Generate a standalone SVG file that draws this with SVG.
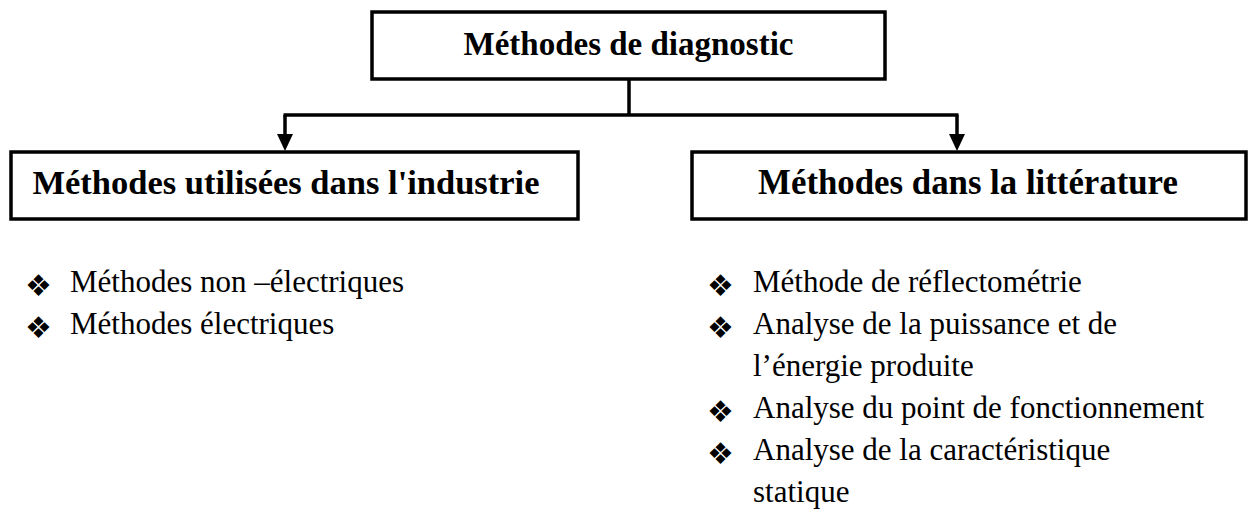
<svg xmlns="http://www.w3.org/2000/svg" width="1249" height="517" viewBox="0 0 1249 517">
<style>
.box{fill:#fff;stroke:#000;stroke-width:3.5}
.hd{font-family:"Liberation Serif","Times New Roman",serif;font-weight:bold;fill:#000}
.it{font-family:"Liberation Serif","Times New Roman",serif;font-size:31px;fill:#000}
.bl{font-family:"DejaVu Sans",sans-serif;font-size:30px;fill:#000}
.cn{fill:none;stroke:#000;stroke-width:3.5}
</style>
<g id="connectors">
<path class="cn" d="M629 80 V115"/>
<path class="cn" d="M283.5 115 H958.5"/>
<path d="M285 115 V136" class="cn"/>
<path d="M957 115 V136" class="cn"/>
<path d="M277 134 L293 134 L285 151 Z" fill="#000"/>
<path d="M949 134 L965 134 L957 151 Z" fill="#000"/>
</g>
<g id="root">
<rect class="box" x="372" y="12" width="513" height="67"/>
<text class="hd" x="628.5" y="55" font-size="33" text-anchor="middle">Méthodes de diagnostic</text>
</g>
<g id="industrie">
<rect class="box" x="11" y="152" width="567" height="67"/>
<text class="hd" x="286" y="194" font-size="34.5" text-anchor="middle">Méthodes utilisées dans l'industrie</text>
</g>
<g id="litterature">
<rect class="box" x="692" y="152" width="554" height="67"/>
<text class="hd" x="968" y="194" font-size="34.8" text-anchor="middle">Méthodes dans la littérature</text>
</g>
<g id="list-industrie">
<text class="bl" x="25" y="296">❖</text>
<text class="it" x="70" y="292">Méthodes non –électriques</text>
<text class="bl" x="25" y="338">❖</text>
<text class="it" x="70" y="334">Méthodes électriques</text>
</g>
<g id="list-litterature">
<text class="bl" x="707" y="296">❖</text>
<text class="it" x="753" y="292">Méthode de réflectométrie</text>
<text class="bl" x="707" y="338">❖</text>
<text class="it" x="753" y="334">Analyse de la puissance et de</text>
<text class="it" x="753" y="376">l’énergie produite</text>
<text class="bl" x="707" y="422">❖</text>
<text class="it" x="753" y="418">Analyse du point de fonctionnement</text>
<text class="bl" x="707" y="464">❖</text>
<text class="it" x="753" y="460">Analyse de la caractéristique</text>
<text class="it" x="753" y="502">statique</text>
</g>
</svg>
